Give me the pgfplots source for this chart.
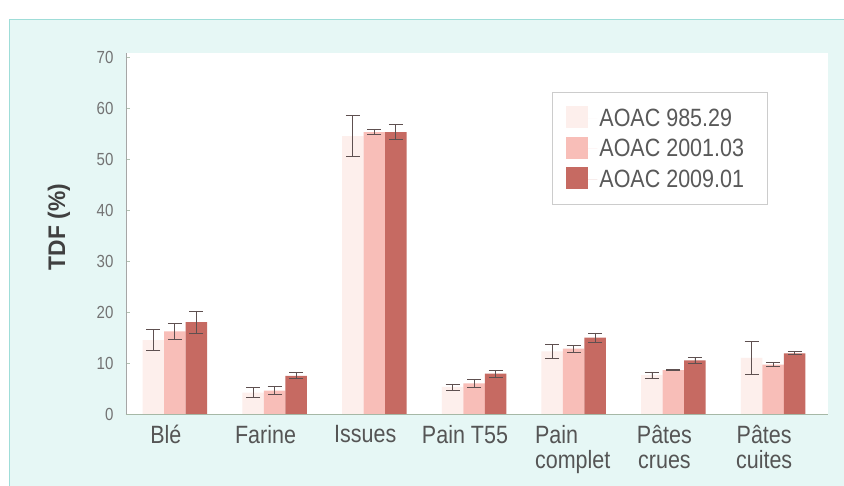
\documentclass[border=0pt]{standalone}
\usepackage{pgfplots}
\pgfplotsset{compat=1.18}
\usepackage{pgfplotstable}
\usepackage{fontspec}
\setmainfont{Liberation Sans}
\newfontfamily\narrowfont{Liberation Sans}[FakeStretch=0.86]
\newfontfamily\labfont{Liberation Sans}[FakeStretch=0.95]
\definecolor{bgcyan}{HTML}{E6F7F5}
\definecolor{linecyan}{HTML}{9FDDD8}
\definecolor{cA}{HTML}{FDEFEC}
\definecolor{cB}{HTML}{F8BEB8}
\definecolor{cC}{HTML}{C66A62}
\definecolor{errc}{HTML}{5E5050}
\definecolor{txt}{HTML}{555555}

\pgfplotstableread{
x y e
0 14.5 2.0
1 4.2 1.0
2 54.5 4.0
3 5.3 0.6
4 12.3 1.4
5 7.6 0.65
6 11.0 3.2
}\tA
\pgfplotstableread{
x y e
0 16.2 1.6
1 4.6 0.8
2 55.3 0.5
3 6.0 0.7
4 12.8 0.7
5 8.6 0.05
6 9.7 0.35
}\tB
\pgfplotstableread{
x y e
0 18.0 2.2
1 7.5 0.6
2 55.3 1.5
3 7.9 0.65
4 15.0 0.9
5 10.5 0.6
6 11.9 0.3
}\tC

\begin{document}
\begin{tikzpicture}
\path[use as bounding box] (-126pt,-72pt) rectangle (718pt,414pt);
\fill[white] (-126pt,-72pt) rectangle (718pt,414pt);
\fill[bgcyan] (-116pt,-72pt) rectangle (718pt,394pt);
\draw[linecyan, line width=1pt] (-116pt,-72pt) -- (-116pt,394pt) -- (718pt,394pt);
\begin{axis}[
  at={(0pt,0pt)}, anchor=south west,
  scale only axis,
  width=702pt, height=361pt,
  xmin=-0.49, xmax=6.55,
  ymin=0, ymax=70.8,
  ybar=0pt, bar width=21.5pt,
  axis background/.style={fill=white},
  axis x line*=bottom, axis y line*=left,
  axis line style={draw=black!35, line width=0.6pt},
  x axis line style={-, draw=green!20!black!35},
  y axis line style={-},
  xtick=data,
  xticklabels={Blé,Farine,Issues,Pain T55,{\begin{tabular}{@{\hspace{16pt}}l@{}}Pain\\complet\end{tabular}},{Pâtes\\crues},{Pâtes\\cuites}},
  xtick style={draw=none},
  xticklabel style={align=center, anchor=north, inner sep=0pt, text=txt, font=\narrowfont\fontsize{25}{25}\selectfont, yshift=-11pt, xshift=-9pt},
  ytick={0,10,...,70},
  tick align=inside, major tick length=4pt,
  ytick style={draw=green!20!black!30, line width=0.6pt},
  /pgf/number format/assume math mode=true,
  yticklabel style={text=black!55, font=\narrowfont\fontsize{17.5}{17.5}\selectfont, xshift=-9pt},
  ylabel={TDF (\%)},
  ylabel style={at={(axis description cs:-0.0954,0.518)}, anchor=center, font=\labfont\bfseries\fontsize{24}{24}\selectfont, text=black!75},
  legend style={at={(axis description cs:0.607,0.892)}, anchor=north west,
     draw=black!20, line width=0.6pt, fill=white,
     font=\narrowfont\fontsize{25}{25}\selectfont, text=black!65,
     inner xsep=14pt, inner ysep=14pt, row sep=7pt},
  legend cell align=left,
  legend image code/.code={\path (0pt,0pt) -- (31pt,0pt); \fill[#1, draw=none] (0pt,-10pt) rectangle (22pt,12pt);},
  error bars/y dir=both, error bars/y explicit,
  error bars/error bar style={errc, line width=0.8pt},
  error bars/error mark options={rotate=90, errc, mark size=7pt, line width=0.8pt},
]
\addplot[fill=cA, draw=none] table[x=x, y=y, y error=e] {\tA};
\addplot[fill=cB, draw=none] table[x=x, y=y, y error=e] {\tB};
\addplot[fill=cC, draw=none] table[x=x, y=y, y error=e] {\tC};
\legend{AOAC 985.29, AOAC 2001.03\kern7pt, AOAC 2009.01\kern7pt}
\end{axis}
\end{tikzpicture}
\end{document}
